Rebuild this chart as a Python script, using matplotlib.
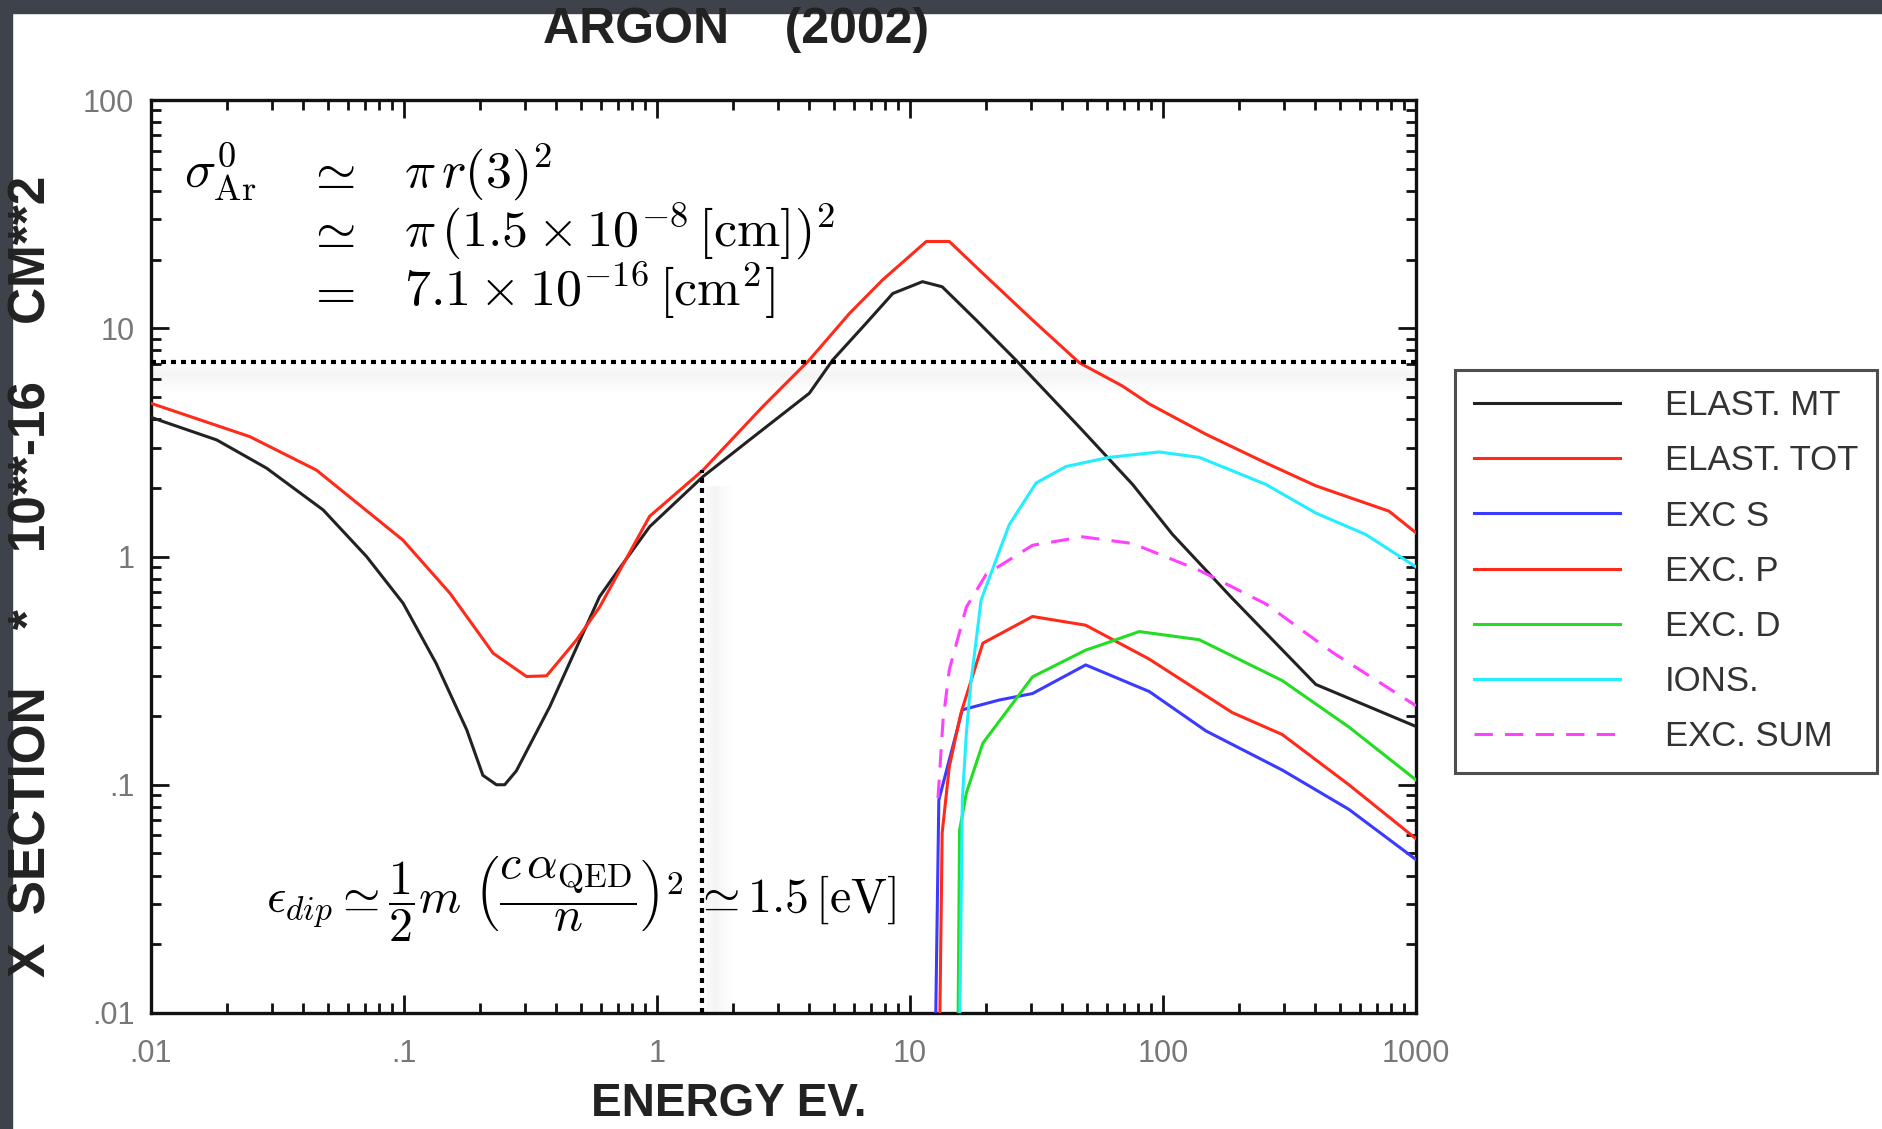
import matplotlib
matplotlib.use("Agg")
import matplotlib.pyplot as plt
from matplotlib.patches import Rectangle

# ---------------------- DATA (energy in eV, cross section in 1e-16 cm^2) ----------------------
E_MT = [0.01, 0.0182, 0.0286, 0.0479, 0.0711, 0.0992, 0.134, 0.177, 0.205, 0.232, 0.25, 0.278,
        0.377, 0.593, 0.733, 0.935, 1.52, 2.32, 4.0, 4.95, 6.7, 8.55, 11.2, 13.4, 18.2, 26.2,
        46.7, 75.8, 109, 188, 402, 1000]
S_MT = [4.07, 3.24, 2.44, 1.60, 1.00, 0.624, 0.34, 0.174, 0.110, 0.100, 0.100, 0.115,
        0.22, 0.667, 0.93, 1.35, 2.24, 3.24, 5.19, 7.26, 10.5, 14.2, 16.0, 15.2, 10.9, 7.26,
        3.69, 2.07, 1.25, 0.655, 0.275, 0.18]

E_TOT = [0.01, 0.0246, 0.0451, 0.099, 0.152, 0.225, 0.305, 0.366, 0.48, 0.593, 0.935, 1.52,
         2.62, 4.0, 5.76, 7.8, 11.6, 14.3, 19.4, 30.4, 46.7, 69.2, 88.3, 148, 255, 402, 782, 1000]
S_TOT = [4.69, 3.35, 2.39, 1.18, 0.69, 0.377, 0.298, 0.30, 0.43, 0.60, 1.50, 2.39,
         4.54, 7.26, 11.6, 16.3, 24.0, 24.0, 17.4, 10.9, 7.06, 5.58, 4.66, 3.43, 2.57, 2.04, 1.58, 1.27]

E_S = [12.45, 13.0, 16.1, 22.5, 30.5, 49.5, 88.3, 148, 296, 543, 1000]
S_S = [0.003, 0.0857, 0.213, 0.235, 0.251, 0.335, 0.256, 0.172, 0.116, 0.078, 0.047]

E_P = [12.95, 13.4, 14.3, 15.9, 19.4, 30.5, 49.5, 88.3, 188, 296, 543, 1000]
S_P = [0.003, 0.0615, 0.12, 0.206, 0.417, 0.546, 0.50, 0.355, 0.207, 0.166, 0.10, 0.058]

E_D = [15.4, 15.7, 16.7, 19.4, 30.5, 49.5, 59.5, 80.5, 139, 296, 543, 1000]
S_D = [0.004, 0.063, 0.092, 0.152, 0.297, 0.389, 0.417, 0.469, 0.432, 0.286, 0.179, 0.105]

E_ION = [15.6, 16.1, 16.7, 17.4, 19.1, 22.5, 24.7, 31.5, 41.4, 61.4, 96.6, 139, 255, 402, 632, 1000]
S_ION = [0.004, 0.0857, 0.168, 0.279, 0.644, 1.05, 1.38, 2.10, 2.48, 2.72, 2.87, 2.72, 2.07, 1.55, 1.25, 0.90]

E_SUM = [12.9, 13.5, 14.3, 16.7, 20.0, 30.5, 48.1, 75.8, 139, 255, 468, 1000]
S_SUM = [0.0875, 0.19, 0.319, 0.60, 0.835, 1.12, 1.22, 1.14, 0.87, 0.62, 0.38, 0.222]

LABELS = ["ELAST. MT", "ELAST. TOT", "EXC S", "EXC. P", "EXC. D", "IONS.", "EXC. SUM"]
COLORS = ["#222222", "#ff2a1a", "#3b3bff", "#ff2a1a", "#22dd22", "#22eeff", "#ff40ff"]

XTICKS = [0.01, 0.1, 1, 10, 100, 1000]
XTICK_LABELS = [".01", ".1", "1", "10", "100", "1000"]
YTICKS = [0.01, 0.1, 1, 10, 100]
YTICK_LABELS = [".01", ".1", "1", "10", "100"]

SIGMA_AR = 7.1       # horizontal dotted line
E_DIP = 1.5          # vertical dotted line
E_DIP_TOP = 2.39

# ---------------------- FIGURE ----------------------
W, H = 1882, 1129
plt.rcParams["mathtext.fontset"] = "cm"
fig = plt.figure(figsize=(W / 100, H / 100), dpi=100)
fig.patch.set_facecolor("white")

# dark slide border (top and left)
fig.patches.append(Rectangle((0, 1 - 13 / H), 1, 13 / H, transform=fig.transFigure,
                             color="#3e424b", zorder=0))
fig.patches.append(Rectangle((0, 0), 12 / W, 1, transform=fig.transFigure,
                             color="#3e424b", zorder=0))

ax = fig.add_axes([151 / W, (H - 1013) / H, 1265 / W, 913 / H])
ax.set_xscale("log")
ax.set_yscale("log")
ax.set_xlim(0.01, 1000)
ax.set_ylim(0.01, 100)

series = [(E_MT, S_MT), (E_TOT, S_TOT), (E_S, S_S), (E_P, S_P), (E_D, S_D), (E_ION, S_ION), (E_SUM, S_SUM)]
handles = []
for (e, s), lab, col in zip(series, LABELS, COLORS):
    if lab == "EXC. SUM":
        h, = ax.plot(e, s, color=col, lw=2.2, dashes=(6, 4), label=lab, zorder=3)
    else:
        h, = ax.plot(e, s, color=col, lw=2.2, label=lab, zorder=3)
    handles.append(h)

# soft shadows of the dotted guide lines
for k in range(4, 30, 2):
    a = 0.10 * (1 - abs(k - 12) / 18)
    ax.axhspan(SIGMA_AR * 10 ** (-(k + 2) / 228.25), SIGMA_AR * 10 ** (-k / 228.25),
               color="#999999", alpha=max(a, 0), lw=0, zorder=1)
for k in range(4, 30, 2):
    a = 0.10 * (1 - abs(k - 12) / 18)
    ax.fill_betweenx([0.01, E_DIP_TOP * 0.85], E_DIP * 10 ** (k / 253.2), E_DIP * 10 ** ((k + 2) / 253.2),
                     color="#999999", alpha=max(a, 0), lw=0, zorder=1)

ax.plot([0.01, 1000], [SIGMA_AR, SIGMA_AR], color="black", lw=3, dashes=(1.2, 1.2),
        dash_capstyle="butt", zorder=4)
ax.plot([E_DIP, E_DIP], [0.01, E_DIP_TOP], color="black", lw=3, dashes=(1.2, 1.2),
        dash_capstyle="butt", zorder=4)

# axes styling
for sp in ax.spines.values():
    sp.set_linewidth(2.4)
    sp.set_color("#111111")
ax.set_xticks(XTICKS)
ax.set_xticklabels(XTICK_LABELS)
ax.set_yticks(YTICKS)
ax.set_yticklabels(YTICK_LABELS)
ax.tick_params(which="both", direction="in", top=True, right=True, width=2, color="#111111")
ax.tick_params(which="major", length=13)
ax.tick_params(which="minor", length=7)
ax.tick_params(axis="x", pad=19)
ax.tick_params(axis="y", pad=12)
for t in ax.get_xticklabels() + ax.get_yticklabels():
    t.set_fontfamily(["Liberation Sans", "DejaVu Sans"])
    t.set_fontsize(22)
    t.set_color("#777777")

# titles and axis labels
bold_font = ["Liberation Sans", "DejaVu Sans"]
fig.text(736 / W, 1 - 30 / H, "ARGON    (2002)", ha="center", va="center",
         fontsize=36, fontweight="bold", family=bold_font, color="#222222")
fig.text(32 / W, 1 - 576 / H, "X  SECTION    *    10**-16    CM**2", rotation=90,
         ha="center", va="center", fontsize=37, fontweight="bold", family=bold_font,
         color="#222222")
fig.text(729 / W, 1 - 1104 / H, "ENERGY EV.", ha="center", va="center",
         fontsize=33, fontweight="bold", family=bold_font, color="#222222")

# formulas
fs = 37.5
rows = [(188, r"$\sigma^{0}_{\rm Ar}$", r"$\simeq$", r"$\pi\, r(3)^2$"),
        (247, "", r"$\simeq$", r"$\pi\,(1.5\times 10^{-8}\,[{\rm cm}])^2$"),
        (307, "", r"$=$", r"$7.1\times 10^{-16}\,[{\rm cm}^2]$")]
for yb, lhs, rel, rhs in rows:
    if lhs:
        fig.text(184 / W, 1 - yb / H, lhs, fontsize=fs, va="baseline", ha="left")
    fig.text(306 / W, 1 - yb / H, rel, fontsize=fs, va="baseline", ha="left")
    fig.text(404 / W, 1 - yb / H, rhs, fontsize=fs, va="baseline", ha="left")

fig.text(266 / W, 1 - 912 / H,
         r"$\epsilon_{dip} \simeq \dfrac{1}{2}m\ \left(\dfrac{c\,\alpha_{\rm QED}}{n}\right)^2\,\simeq 1.5\,[{\rm eV}]$",
         fontsize=34.5, va="baseline", ha="left")

# legend
leg = fig.legend(handles, LABELS, loc="upper left", bbox_to_anchor=(1455 / W, 1 - 370 / H),
                 frameon=True, fancybox=False, handlelength=4.2, handletextpad=1.3,
                 labelspacing=0.64, borderpad=0.55, borderaxespad=0,
                 prop={"family": ["Liberation Sans", "DejaVu Sans"], "size": 25})
leg.get_frame().set_edgecolor("#222222")
leg.get_frame().set_linewidth(2.2)
for t in leg.get_texts():
    t.set_color("#333333")

fig.savefig("out.png", dpi=100)
